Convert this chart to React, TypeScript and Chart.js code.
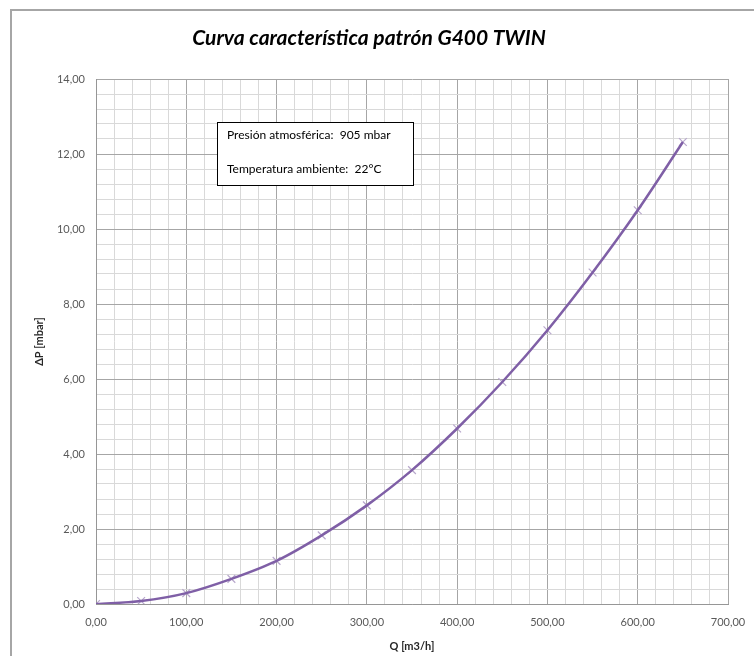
import React, { useEffect, useRef } from "react";
import { Chart, registerables } from "chart.js";

Chart.register(...registerables);

const chartTitle = "Curva característica patrón G400 TWIN";
const xAxisTitle = "Q [m3/h]";
const yAxisTitle = "ΔP [mbar]";
const noteLines = ["Presión atmosférica:  905 mbar", "Temperatura ambiente:  22°C"];

const qValues = [0, 50, 100, 150, 200, 250, 300, 350, 400, 450, 500, 550, 600, 650];
const dpValues = [0, 0.08, 0.29, 0.67, 1.15, 1.83, 2.63, 3.57, 4.68, 5.92, 7.3, 8.84, 10.5, 12.32];

const FONT = "Lato, 'Open Sans', sans-serif";

const fmt = (v: number) => v.toFixed(2).replace(".", ",");
const isMult = (v: number, m: number) => Math.abs(v / m - Math.round(v / m)) < 1e-6;

export default function App() {
  const ref = useRef<HTMLCanvasElement | null>(null);

  useEffect(() => {
    if (!ref.current) return;
    const points = qValues.map((q, i) => ({ x: q, y: dpValues[i] }));

    const decor = {
      id: "decor",
      beforeDraw(chart: any) {
        const ctx = chart.ctx;
        ctx.save();
        ctx.fillStyle = "#ffffff";
        ctx.fillRect(0, 0, chart.width, chart.height);
        ctx.strokeStyle = "#a6a6a6";
        ctx.lineWidth = 2;
        ctx.strokeRect(11, 10, chart.width + 20, chart.height + 20);
        ctx.fillStyle = "#000000";
        ctx.font = `italic bold 21px ${FONT}`;
        ctx.textAlign = "center";
        ctx.textBaseline = "middle";
        ctx.fillText(chartTitle, 369, 38);
        ctx.restore();
      },
      afterDatasetsDraw(chart: any) {
        const ctx = chart.ctx;
        const a = chart.chartArea;
        ctx.save();
        const bx = a.left + 121;
        const by = a.top + 43;
        ctx.fillStyle = "#ffffff";
        ctx.fillRect(bx, by, 196, 63);
        ctx.strokeStyle = "#000000";
        ctx.lineWidth = 1;
        ctx.strokeRect(bx + 0.5, by + 0.5, 196, 63);
        ctx.fillStyle = "#000000";
        ctx.font = `12px ${FONT}`;
        ctx.textAlign = "left";
        ctx.textBaseline = "middle";
        ctx.fillText(noteLines[0], bx + 10, by + 13);
        ctx.fillText(noteLines[1], bx + 10, by + 47);
        ctx.restore();
      },
    };

    const chart = new Chart(ref.current, {
      type: "scatter",
      data: {
        datasets: [
          {
            label: "curva",
            data: points,
            showLine: true,
            borderColor: "#7f5fa6",
            borderWidth: 2.5,
            pointRadius: 0,
            cubicInterpolationMode: "monotone",
            fill: false,
          },
          {
            label: "medidas",
            data: points,
            showLine: false,
            pointStyle: "crossRot",
            pointRadius: 5.5,
            borderColor: "#b8a8cc",
            backgroundColor: "#b8a8cc",
            pointBorderWidth: 1.2,
          },
        ],
      },
      options: {
        responsive: false,
        animation: false,
        layout: { padding: { left: 20, right: 26, top: 79, bottom: 0 } },
        plugins: {
          legend: { display: false },
          tooltip: { enabled: false },
          title: { display: false },
        },
        scales: {
          x: {
            type: "linear",
            min: 0,
            max: 700,
            afterFit: (s: any) => {
              s.height = 52;
              s.paddingLeft = 0;
              s.paddingRight = 0;
            },
            border: { color: "#969696", width: 1 },
            grid: {
              drawTicks: false,
              color: (c: any) => (c.tick && isMult(c.tick.value, 100) ? "#a6a6a6" : "#d9d9d9"),
              lineWidth: 1,
            },
            ticks: {
              stepSize: 20,
              autoSkip: false,
              maxRotation: 0,
              padding: 12,
              color: "#595959",
              font: { family: FONT, size: 11 },
              callback: (v: any) => (isMult(Number(v), 100) ? fmt(Number(v)) : ""),
            },
            title: {
              display: true,
              text: xAxisTitle,
              color: "#262626",
              font: { family: FONT, size: 11, weight: "bold" },
              padding: { top: 0, bottom: 3 },
            },
          },
          y: {
            type: "linear",
            min: 0,
            max: 14,
            afterFit: (s: any) => {
              s.width = 76;
            },
            border: { color: "#969696", width: 1 },
            grid: {
              drawTicks: false,
              color: (c: any) => (c.tick && isMult(c.tick.value, 2) ? "#a6a6a6" : "#d9d9d9"),
              lineWidth: 1,
            },
            ticks: {
              stepSize: 0.4,
              autoSkip: false,
              padding: 11,
              color: "#595959",
              font: { family: FONT, size: 11 },
              callback: (v: any) => (isMult(Number(v), 2) ? fmt(Number(v)) : ""),
            },
            title: {
              display: true,
              text: yAxisTitle,
              color: "#262626",
              font: { family: FONT, size: 11, weight: "bold" },
              padding: { top: 13, bottom: 0 },
            },
          },
        },
      },
      plugins: [decor],
    } as any);

    return () => chart.destroy();
  }, []);

  return (
    <div style={{ position: "fixed", left: 0, top: 0, width: 754, height: 656 }}>
      <canvas ref={ref} width={754} height={656} style={{ display: "block" }} />
    </div>
  );
}
